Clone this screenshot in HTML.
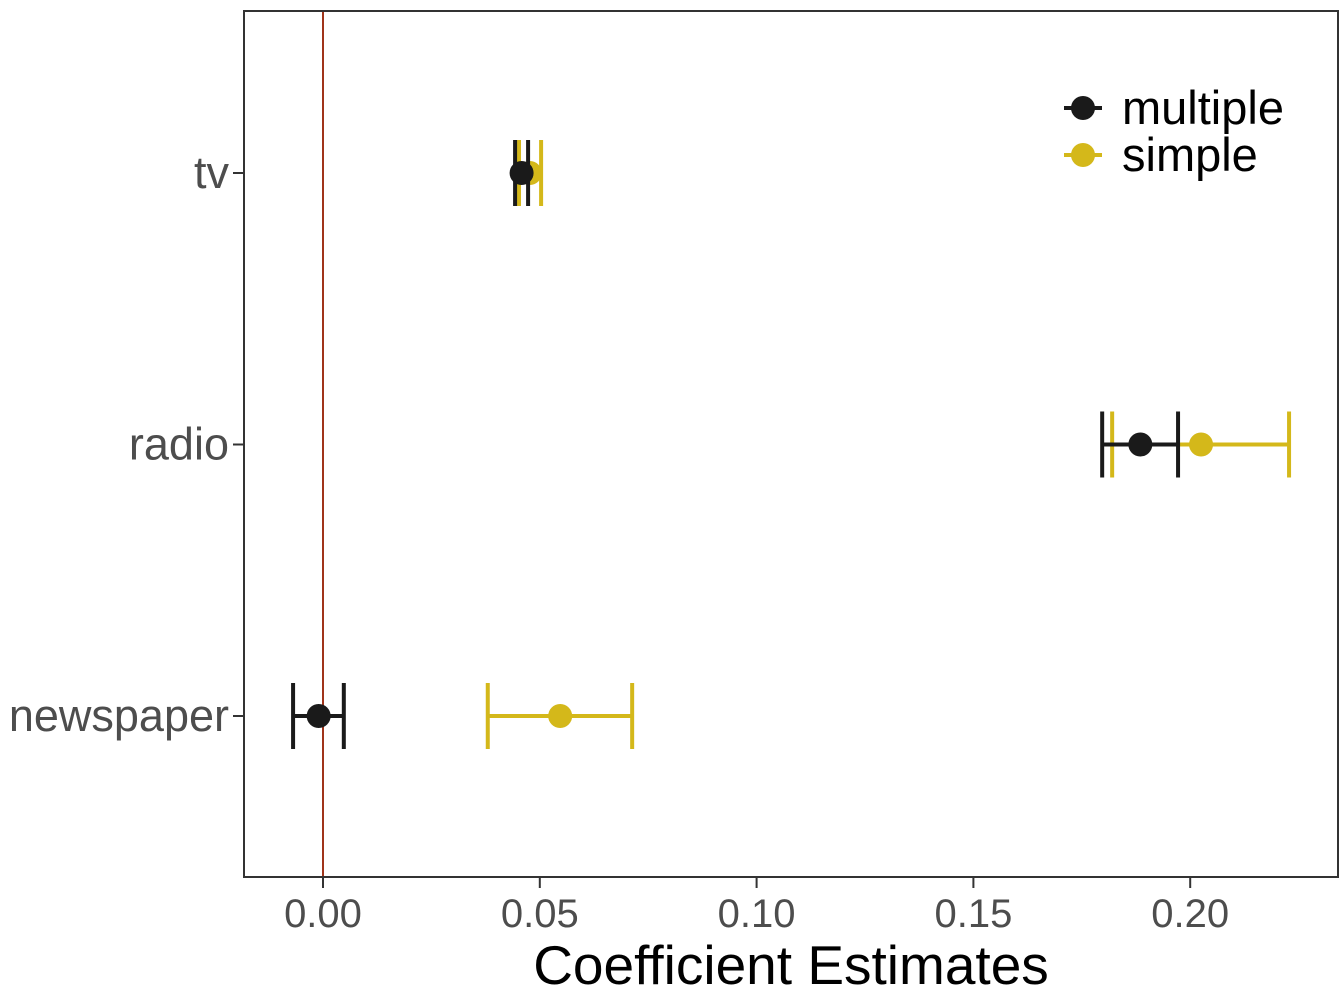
<!DOCTYPE html>
<html><head><meta charset="utf-8"><style>
html,body{margin:0;padding:0;background:#fff;width:1344px;height:1008px;overflow:hidden}
svg{display:block;font-family:"Liberation Sans",sans-serif}
</style></head><body>
<svg id="chart" width="1344" height="1008">
<rect x="244" y="11" width="1094" height="866" fill="#fff" stroke="#333" stroke-width="2"/>
<g id="marks"></g>
</svg>
<script>
const categories = ["tv","radio","newspaper"];
const seriesNames = ["multiple","simple"];
const multipleEst = [0.0458, 0.1885, -0.0010];
const multipleLo = [0.0443, 0.1797, -0.0069];
const multipleHi = [0.0473, 0.1972, 0.0048];
const simpleEst = [0.0477, 0.2025, 0.0547];
const simpleLo = [0.0452, 0.1820, 0.0380];
const simpleHi = [0.0503, 0.2228, 0.0713];
const xTicks = [0, 0.05, 0.10, 0.15, 0.20];
const xTickLabels = ["0.00","0.05","0.10","0.15","0.20"];

const NS="http://www.w3.org/2000/svg";
const svg=document.getElementById('chart');
const g=document.getElementById('marks');
const xs=v=>323+v*4336;
const ys=i=>173+i*271.5;
const colors=["#1a1a1a","#D4B81A"];
function mk(tag,attrs,parent){const e=document.createElementNS(NS,tag);for(const k in attrs)e.setAttribute(k,attrs[k]);(parent||g).appendChild(e);return e;}

let zl=mk('line',{x1:xs(0),x2:xs(0),y1:12,y2:876,stroke:"#A0341A","stroke-width":2});



xTicks.forEach((t,i)=>{
  const tk=mk('line',{x1:xs(t),x2:xs(t),y1:877,y2:888,stroke:"#333","stroke-width":2});
  
  
  const tl=mk('text',{x:xs(t),y:927,"text-anchor":"middle","font-size":40,fill:"#4d4d4d"});
  tl.textContent=xTickLabels[i];
  
  
});
categories.forEach((c,i)=>{
  const tk=mk('line',{x1:233,x2:244,y1:ys(i),y2:ys(i),stroke:"#333","stroke-width":2});
  
  
  const tl=mk('text',{x:229,y:ys(i)+15,"text-anchor":"end","font-size":45,fill:"#4d4d4d"});
  tl.textContent=c;
  
  
});
const title=mk('text',{x:791,y:984,"text-anchor":"middle","font-size":55,fill:"#000"});
title.textContent="Coefficient Estimates";



const series=[[multipleEst,multipleLo,multipleHi],[simpleEst,simpleLo,simpleHi]];
[1,0].forEach(s=>{
  const [est,lo,hi]=series[s];
  categories.forEach((c,i)=>{
    const y=ys(i),col=colors[s];
    const grp=mk('g',{});
    
    
    mk('line',{x1:xs(lo[i]),x2:xs(hi[i]),y1:y,y2:y,stroke:col,"stroke-width":4},grp);
    mk('line',{x1:xs(lo[i]),x2:xs(lo[i]),y1:y-33,y2:y+33,stroke:col,"stroke-width":4},grp);
    mk('line',{x1:xs(hi[i]),x2:xs(hi[i]),y1:y-33,y2:y+33,stroke:col,"stroke-width":4},grp);
    mk('circle',{cx:xs(est[i]),cy:y,r:12,fill:col},grp);
  });
});

seriesNames.forEach((n,i)=>{
  const y=108+i*47;
  const grp=mk('g',{});
  
  
  mk('line',{x1:1064,x2:1102,y1:y,y2:y,stroke:colors[i],"stroke-width":4},grp);
  mk('circle',{cx:1083,cy:y,r:12,fill:colors[i]},grp);
  const t=mk('text',{x:1122,y:y+16,"font-size":47,fill:"#000"},grp);
  t.textContent=n;
});
</script>
</body></html>
